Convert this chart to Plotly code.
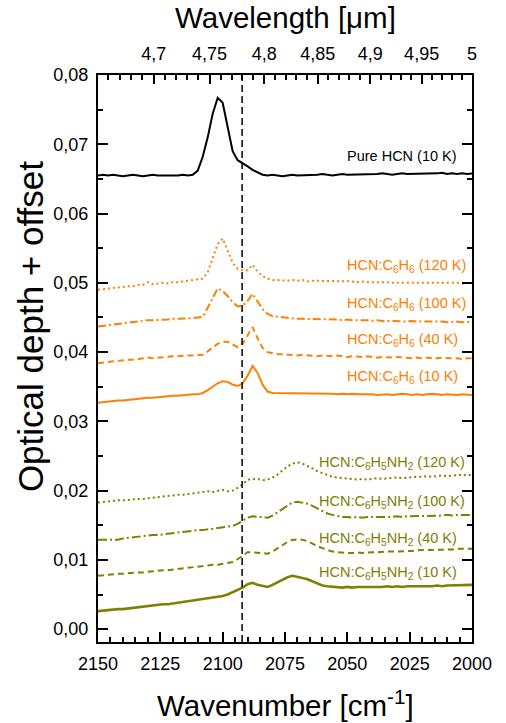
import plotly.graph_objects as go

# ---------------- data ----------------
wavenumber = list(range(2150, 1999, -2))  # cm^-1 grid, 76 points

pure_hcn_10K = [
    .0655, .0656, .0655, .0656, .0655, .0654, .0655, .0656, .0655, .0654,
    .0655, .0656, .0655, .0655, .0654, .0655, .0655, .0656, .0655, .0656,
    .0662, .0682, .0710, .0744, .0767, .0760, .0726, .0690, .0677, .0673,
    .0668, .0663, .0659, .0656, .0655, .0656, .0655, .0654, .0655, .0656,
    .0655, .0655, .0656, .0655, .0656, .0657, .0656, .0655, .0656, .0657,
    .0656, .0656, .0657, .0656, .0657, .0656, .0657, .0658, .0657, .0656,
    .0657, .0658, .0657, .0657, .0658, .0657, .0658, .0657, .0658, .0659,
    .0657, .0658, .0657, .0658, .0657, .0658]

benz_120K = [
    .0490, .0491, .0491, .0493, .0493, .0494, .0495, .0495, .0497, .0497,
    .0501, .0498, .0499, .0500, .0499, .0501, .0501, .0502, .0503, .0503,
    .0504, .0506, .0515, .0536, .0556, .0564, .0546, .0529, .0520, .0518,
    .0518, .0526, .0516, .0510, .0506, .0504, .0504, .0503, .0503, .0504,
    .0503, .0504, .0502, .0503, .0503, .0502, .0502, .0503, .0502, .0502,
    .0503, .0502, .0501, .0502, .0501, .0501, .0501, .0502, .0501, .0500,
    .0500, .0501, .0500, .0501, .0500, .0500, .0500, .0501, .0500, .0500,
    .0501, .0500, .0500, .0499, .0500, .0500]

benz_100K = [
    .0437, .0438, .0439, .0440, .0441, .0442, .0442, .0443, .0444, .0445,
    .0446, .0446, .0446, .0447, .0447, .0448, .0448, .0449, .0449, .0449,
    .0450, .0451, .0464, .0478, .0492, .0488, .0481, .0472, .0466, .0467,
    .0474, .0484, .0472, .0462, .0455, .0452, .0451, .0450, .0449, .0449,
    .0448, .0448, .0448, .0447, .0448, .0447, .0447, .0448, .0447, .0446,
    .0447, .0446, .0446, .0447, .0446, .0445, .0446, .0445, .0445, .0446,
    .0445, .0444, .0445, .0445, .0444, .0444, .0445, .0444, .0444, .0444,
    .0443, .0444, .0444, .0443, .0444, .0444]

benz_40K = [
    .0384, .0385, .0386, .0386, .0387, .0388, .0389, .0389, .0390, .0390,
    .0392, .0391, .0392, .0393, .0393, .0394, .0394, .0395, .0395, .0395,
    .0396, .0396, .0401, .0407, .0412, .0415, .0415, .0411, .0407, .0412,
    .0425, .0436, .0420, .0406, .0400, .0398, .0397, .0397, .0396, .0396,
    .0395, .0396, .0395, .0395, .0394, .0395, .0394, .0394, .0395, .0394,
    .0393, .0394, .0393, .0393, .0394, .0393, .0392, .0393, .0392, .0392,
    .0393, .0392, .0392, .0391, .0392, .0391, .0392, .0391, .0391, .0392,
    .0391, .0391, .0391, .0390, .0391, .0391]

benz_10K = [
    .0327, .0328, .0328, .0329, .0330, .0330, .0331, .0332, .0332, .0333,
    .0334, .0334, .0335, .0336, .0337, .0337, .0337, .0338, .0339, .0339,
    .0339, .0341, .0345, .0350, .0355, .0358, .0357, .0353, .0351, .0355,
    .0366, .0380, .0370, .0353, .0343, .0341, .0341, .0340, .0341, .0340,
    .0341, .0340, .0341, .0340, .0340, .0341, .0340, .0340, .0339, .0340,
    .0339, .0340, .0339, .0339, .0340, .0339, .0338, .0339, .0339, .0338,
    .0339, .0340, .0339, .0338, .0339, .0338, .0339, .0340, .0339, .0338,
    .0339, .0338, .0338, .0339, .0338, .0338]

anil_120K = [
    .0183, .0184, .0185, .0185, .0186, .0186, .0187, .0187, .0188, .0188,
    .0189, .0189, .0190, .0192, .0192, .0193, .0194, .0194, .0195, .0196,
    .0197, .0199, .0199, .0198, .0200, .0201, .0199, .0200, .0204, .0209,
    .0216, .0217, .0217, .0215, .0216, .0219, .0223, .0229, .0235, .0239,
    .0241, .0239, .0236, .0232, .0228, .0225, .0222, .0220, .0219, .0218,
    .0217, .0217, .0216, .0217, .0216, .0217, .0218, .0217, .0218, .0218,
    .0219, .0218, .0219, .0219, .0220, .0220, .0221, .0220, .0221, .0222,
    .0221, .0222, .0222, .0223, .0222, .0223]

anil_100K = [
    .0129, .0129, .0129, .0129, .0129, .0131, .0132, .0133, .0134, .0134,
    .0135, .0136, .0136, .0137, .0137, .0139, .0139, .0140, .0141, .0142,
    .0143, .0143, .0144, .0145, .0145, .0146, .0147, .0149, .0152, .0157,
    .0161, .0163, .0162, .0161, .0161, .0164, .0169, .0174, .0179, .0183,
    .0184, .0183, .0181, .0178, .0174, .0170, .0167, .0165, .0163, .0162,
    .0162, .0161, .0162, .0161, .0162, .0162, .0161, .0162, .0162, .0162,
    .0163, .0162, .0163, .0163, .0163, .0163, .0164, .0164, .0164, .0164,
    .0165, .0164, .0165, .0165, .0165, .0165]

anil_40K = [
    .0077, .0078, .0078, .0079, .0080, .0080, .0081, .0081, .0082, .0082,
    .0083, .0083, .0084, .0085, .0085, .0086, .0087, .0087, .0088, .0089,
    .0090, .0091, .0092, .0093, .0093, .0094, .0095, .0097, .0101, .0106,
    .0111, .0111, .0110, .0109, .0109, .0112, .0117, .0122, .0126, .0129,
    .0129, .0129, .0127, .0123, .0120, .0117, .0114, .0112, .0111, .0110,
    .0110, .0110, .0111, .0110, .0111, .0111, .0111, .0112, .0112, .0112,
    .0112, .0113, .0113, .0113, .0114, .0114, .0114, .0114, .0115, .0115,
    .0115, .0115, .0116, .0116, .0116, .0116]

anil_10K = [
    .0026, .0027, .0027, .0028, .0029, .0029, .0030, .0031, .0031, .0032,
    .0033, .0034, .0035, .0036, .0036, .0037, .0038, .0039, .0040, .0041,
    .0042, .0044, .0045, .0046, .0047, .0048, .0050, .0053, .0057, .0060,
    .0065, .0067, .0064, .0062, .0061, .0064, .0068, .0071, .0075, .0077,
    .0076, .0074, .0072, .0069, .0066, .0063, .0062, .0061, .0061, .0060,
    .0061, .0060, .0061, .0061, .0060, .0061, .0061, .0061, .0062, .0061,
    .0062, .0061, .0062, .0062, .0062, .0061, .0062, .0062, .0063, .0062,
    .0063, .0063, .0064, .0063, .0064, .0064]

series_names = ["Pure HCN (10 K)",
                "HCN:C<sub>6</sub>H<sub>6</sub> (120 K)",
                "HCN:C<sub>6</sub>H<sub>6</sub> (100 K)",
                "HCN:C<sub>6</sub>H<sub>6</sub> (40 K)",
                "HCN:C<sub>6</sub>H<sub>6</sub> (10 K)",
                "HCN:C<sub>6</sub>H<sub>5</sub>NH<sub>2</sub> (120 K)",
                "HCN:C<sub>6</sub>H<sub>5</sub>NH<sub>2</sub> (100 K)",
                "HCN:C<sub>6</sub>H<sub>5</sub>NH<sub>2</sub> (40 K)",
                "HCN:C<sub>6</sub>H<sub>5</sub>NH<sub>2</sub> (10 K)"]
series_values = [pure_hcn_10K, benz_120K, benz_100K, benz_40K, benz_10K,
                 anil_120K, anil_100K, anil_40K, anil_10K]
label_x = [2050.8, 2050.8, 2050.8, 2050.8, 2050.8, 2062, 2062, 2062, 2062]
label_y = [0.0683, 0.0525, 0.0470, 0.0418, 0.0364, 0.0240, 0.0184, 0.0130, 0.0081]

marker_wavenumber = 2092.2  # dashed reference line

wn_ticks = [2150, 2125, 2100, 2075, 2050, 2025, 2000]
wn_minor = [w for w in range(2150, 1999, -5) if w not in wn_ticks]
y_ticks = [0.00, 0.01, 0.02, 0.03, 0.04, 0.05, 0.06, 0.07, 0.08]
y_tick_labels = ["0,00", "0,01", "0,02", "0,03", "0,04", "0,05", "0,06", "0,07", "0,08"]
wl_ticks = [4.70, 4.75, 4.80, 4.85, 4.90, 4.95, 5.00]
wl_tick_labels = ["4,7", "4,75", "4,8", "4,85", "4,9", "4,95", "5"]
wl_minor = [4.66, 4.67, 4.68, 4.69, 4.71, 4.72, 4.73, 4.74, 4.76, 4.77, 4.78, 4.79,
            4.81, 4.82, 4.83, 4.84, 4.86, 4.87, 4.88, 4.89, 4.91, 4.92, 4.93, 4.94,
            4.96, 4.97, 4.98, 4.99]

for s in series_values:
    assert len(s) == len(wavenumber), len(s)

# ---------------- styles ----------------
BLACK = "#000000"
ORANGE = "#FF8000"
OLIVE = "#808000"
colors = [BLACK, ORANGE, ORANGE, ORANGE, ORANGE, OLIVE, OLIVE, OLIVE, OLIVE]
dashes = ["solid", "2px,3px", "8px,3px,2px,3px", "6px,4px", "solid",
          "2px,3px", "9px,3px,2px,3px", "6px,4px", "solid"]
widths = [2, 2, 2, 2, 2, 2, 2, 2, 2.6]

FONT = "Liberation Sans, Arial, Helvetica, sans-serif"

fig = go.Figure()
for vals, c, d, w in zip(series_values, colors, dashes, widths):
    fig.add_trace(go.Scatter(x=wavenumber, y=vals, mode="lines",
                             line=dict(color=c, dash=d, width=w),
                             showlegend=False, hoverinfo="skip"))

# dashed reference line, drawn on the top (wavelength) x-axis
fig.add_trace(go.Scatter(x=[marker_wavenumber, marker_wavenumber], y=[-0.00185, 0.08],
                         xaxis="x2", mode="lines",
                         line=dict(color=BLACK, dash="7px,4px", width=1.5),
                         showlegend=False, hoverinfo="skip"))

for name, lx, ly, c in zip(series_names, label_x, label_y, colors):
    fig.add_annotation(x=lx, y=ly, xref="x", yref="y", text=name, showarrow=False,
                       xanchor="left", yanchor="middle",
                       font=dict(family=FONT, size=14.5, color=c))

# axis titles as annotations
fig.add_annotation(x=0.5, y=1.102, xref="paper", yref="paper", text="Wavelength [μm]",
                   showarrow=False, xanchor="center", yanchor="middle",
                   font=dict(family=FONT, size=29.5, color=BLACK))
fig.add_annotation(x=0.5, y=-0.108, xref="paper", yref="paper",
                   text="Wavenumber [cm<sup>-1</sup>]",
                   showarrow=False, xanchor="center", yanchor="middle",
                   font=dict(family=FONT, size=29.5, color=BLACK))
fig.add_annotation(x=-0.182, y=0.557, xref="paper", yref="paper",
                   text="Optical depth + offset", textangle=-90,
                   showarrow=False, xanchor="center", yanchor="middle",
                   font=dict(family=FONT, size=35, color=BLACK))

fig.update_layout(
    width=506, height=723,
    margin=dict(l=98, r=34, t=75, b=81),
    paper_bgcolor="white", plot_bgcolor="white",
    font=dict(family=FONT, size=18, color=BLACK),
    showlegend=False,
    xaxis=dict(range=[2150, 2000], showgrid=False, zeroline=False,
               showline=True, linecolor=BLACK, linewidth=2, mirror=False,
               ticks="inside", ticklen=10, tickwidth=2, tickcolor=BLACK,
               tickmode="array", tickvals=wn_ticks, ticktext=[str(t) for t in wn_ticks],
               ticklabelstandoff=4,
               minor=dict(tickmode="array", tickvals=wn_minor, ticks="inside",
                          ticklen=5, tickwidth=2, tickcolor=BLACK, showgrid=False)),
    xaxis2=dict(overlaying="x", side="top", range=[2150, 2000], showgrid=False,
                zeroline=False, showline=True, linecolor=BLACK, linewidth=2,
                ticks="inside", ticklen=9, tickwidth=2, tickcolor=BLACK,
                tickmode="array", tickvals=[10000 / l for l in wl_ticks],
                ticktext=wl_tick_labels, ticklabelstandoff=6,
                minor=dict(tickmode="array", tickvals=[10000 / l for l in wl_minor],
                           ticks="inside", ticklen=5, tickwidth=2, tickcolor=BLACK,
                           showgrid=False)),
    yaxis=dict(range=[-0.00185, 0.08], showgrid=False, zeroline=False,
               showline=True, linecolor=BLACK, linewidth=2, mirror="ticks",
               ticks="inside", ticklen=10, tickwidth=2, tickcolor=BLACK,
               tickmode="array", tickvals=y_ticks, ticktext=y_tick_labels,
               ticklabelstandoff=4,
               minor=dict(dtick=0.005, tick0=0, ticks="inside", ticklen=5,
                          tickwidth=2, tickcolor=BLACK, showgrid=False)),
)

fig.write_html("out.html")
